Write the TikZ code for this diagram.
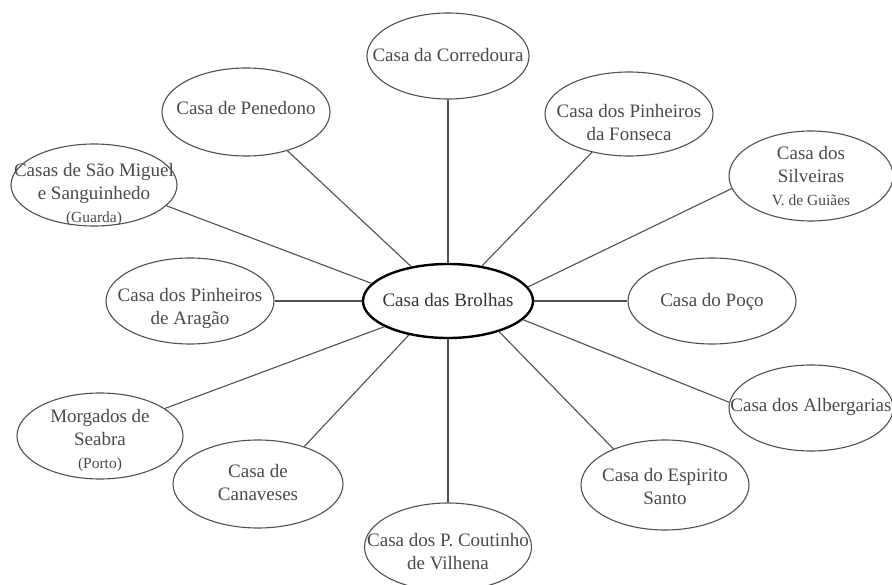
\documentclass[tikz,border=0pt]{standalone}
\usepackage{fontspec}
\setmainfont{Liberation Serif}
\usetikzlibrary{shapes.geometric}
\definecolor{txt}{HTML}{4A4A4A}
\definecolor{edge}{HTML}{505050}
\tikzset{
  house/.style={ellipse, draw=edge, line width=1.1pt, text=txt,
    inner sep=0pt, minimum width=168pt, minimum height=86pt,
    font=\fontsize{19}{23}\selectfont},
  hub/.style={house, draw=black, line width=2.4pt, text=black!80},
  link/.style={draw=edge, line width=1.1pt},
}
% zero-size centred label so that the text never enlarges the ellipse
\newcommand{\lbl}[2][0pt]{\raisebox{\dimexpr-4.75pt-#1\relax}[0pt][0pt]{\makebox[0pt]{\begin{tabular}{@{}c@{}}#2\end{tabular}}}}
\newcommand{\smalltxt}[1]{{\fontsize{15.5}{18}\selectfont #1}}
\begin{document}
\begin{tikzpicture}[x=1pt,y=-1pt]
\useasboundingbox (0,0) rectangle (892,585);
\node[hub, minimum width=170pt, minimum height=74pt] (brol) at (448,301) {\lbl{Casa das Brolhas}};
\node[house, minimum width=162pt] (corr) at (448,56) {\lbl{Casa da Corredoura}};
\node[house, minimum height=88pt] (pene) at (246,112) {\lbl[-3pt]{Casa de Penedono}};
\node[house, minimum height=84pt] (fons) at (629,114) {\lbl[10pt]{Casa dos Pinheiros\\da Fonseca}};
\node[house, minimum width=164pt, minimum height=90pt] (silv) at (811,176) {\lbl[1pt]{Casa dos\\Silveiras\\\smalltxt{V. de Guiães}}};
\node[house, minimum width=166pt, minimum height=82pt] (smig) at (94,185) {\lbl[9pt]{Casas de São Miguel\\e Sanguinhedo\\\smalltxt{(Guarda)}}};
\node[house] (arag) at (190,301) {\lbl[7pt]{Casa dos Pinheiros\\de Aragão}};
\node[house] (poco) at (712,301) {\lbl{Casa do Poço}};
\node[house, minimum width=164pt] (albe) at (811,408) {\lbl[-2pt]{Casa dos Albergarias}};
\node[house, minimum width=166pt] (morg) at (100,436) {\lbl[4pt]{Morgados de\\Seabra\\\smalltxt{(Porto)}}};
\node[house, minimum width=170pt, minimum height=88pt] (cana) at (258,484) {\lbl{Casa de\\Canaveses}};
\node[house, minimum height=90pt] (espi) at (665,485) {\lbl[3pt]{Casa do Espirito\\Santo}};
\node[house, minimum width=167pt, minimum height=88pt] (cout) at (448,547) {\lbl[6pt]{Casa dos P. Coutinho\\de Vilhena}};
\draw[link] (corr) -- (brol);
\draw[link] (pene) -- (brol);
\draw[link] (fons) -- (brol);
\draw[link] (brol.10) -- (silv.189);
\draw[link] (brol) -- (poco);
\draw[link] (brol.-14) -- (albe.176);
\draw[link] (brol.-31) -- (espi.145);
\draw[link] (brol) -- (cout);
\draw[link] (brol.221) -- (cana.39);
\draw[link] (brol.202) -- (morg.23);
\draw[link] (brol) -- (arag);
\draw[link] (brol.167) -- (smig.-16);
\end{tikzpicture}
\end{document}
